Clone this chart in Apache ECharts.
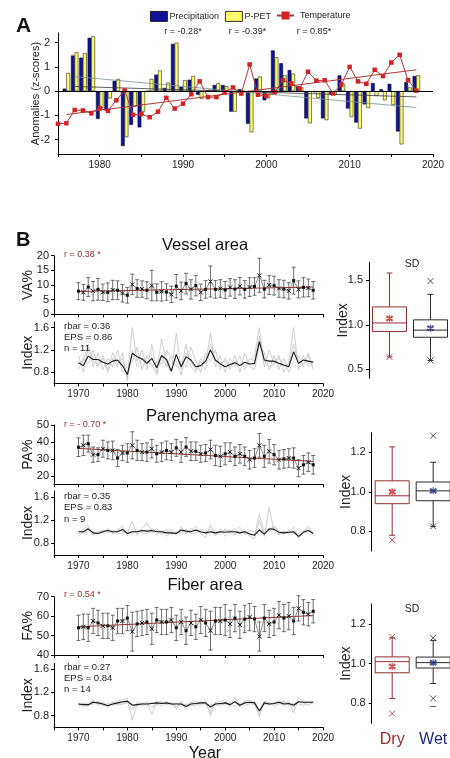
<!DOCTYPE html>
<html><head><meta charset="utf-8">
<script src="https://cdn.jsdelivr.net/npm/echarts@6/dist/echarts.min.js"></script>
<style>html,body{margin:0;padding:0;background:#fff}#c{width:450px;height:758px}</style>
</head><body><div id="c"></div>
<script>
// ---------- Panel A data ----------
const barStartYear = 1976;   // bars 1976-2018
const tempStartYear = 1975;  // temperature 1975-2018
const precip = [0.1,1.47,1.38,2.2,-1.15,-0.8,0.42,-2.27,-1.4,-1.5,0.0,0.68,0.13,1.95,0.18,0.47,-0.15,0.03,0.25,0.25,-0.85,0.08,-1.35,0.52,-0.38,1.68,1.15,0.87,0.2,-1.13,-0.05,-1.13,-0.15,0.65,-0.72,-1.3,-0.55,0.33,0.08,0.3,-1.67,0.37,0.62];
const ppet = [0.75,1.6,1.57,2.27,-0.7,-0.3,0.5,-1.9,-0.65,-0.85,0.5,0.85,0.35,2.0,0.45,0.62,-0.32,0.06,0.32,0.2,-0.85,0.0,-1.7,0.6,-0.3,1.4,0.65,0.72,0.15,-1.33,-0.28,-1.2,-0.15,0.3,-1.07,-1.55,-0.7,-0.2,-0.38,-0.57,-2.2,0.15,0.65];
const temperature = [-1.35,-1.33,-0.78,-0.8,-0.92,-0.7,-0.82,-0.38,0.03,-0.98,-0.95,-1.08,-0.85,-0.28,-0.72,-0.52,-0.13,0.4,-0.25,-0.25,-0.05,0.15,-0.1,1.1,-0.15,-0.2,-0.05,0.45,0.32,0.1,0.8,0.43,0.45,-0.1,0.27,1.0,0.4,0.3,0.88,0.62,1.18,1.5,0.45,0.02];
const tempTrend = [[1976,-0.97],[2018,0.88]];
const ppetTrend = [[1977,0.6],[2018,-0.68]];
const precipTrend = [[1977,0.19],[2018,-0.24]];
const aYTicks = [-2,-1,0,1,2];
const aRTexts = ['r = -0.28*','r = -0.39*','r = 0.85*'];

// ---------- Panel B data (1970-2018) ----------
const bStartYear = 1970;
const vaMean = [7.9,7.5,9.3,7.9,8.5,7.5,7.5,8.3,8.2,7.2,6.5,10.2,8.8,8.6,8.2,9.8,7.5,7.8,7.6,6.8,9.6,8.0,10.5,8.5,9.8,7.5,8.5,11.2,8.5,8.8,8.3,9.2,8.6,9.6,8.5,9.3,9.5,13.3,8.6,10.0,9.8,8.8,8.6,8.0,11.5,8.5,9.2,9.0,8.2];
const vaSd = [2.9,2.7,3.2,3.3,3.7,2.8,3.2,3.3,3.2,3.0,2.7,3.5,3.0,2.8,2.9,5.2,2.9,3.3,2.8,2.8,4.0,3.0,3.5,3.3,3.5,2.8,3.0,5.3,3.0,3.0,2.9,3.0,3.2,3.0,3.0,3.2,3.0,5.8,3.0,3.2,3.2,3.0,3.0,2.8,4.6,2.9,3.3,3.0,3.0];
const vaTrend = [[1970,7.8],[2018,9.3]];
const vaIndex = [0.97,0.92,1.09,1.03,1.03,0.98,0.95,1.0,1.02,0.92,0.76,1.14,1.08,1.04,0.96,1.05,0.88,1.1,1.03,0.82,1.12,0.9,1.08,1.02,0.9,0.92,1.0,1.2,1.02,0.95,0.9,0.94,0.97,0.92,0.98,0.95,0.96,1.35,1.02,1.0,1.0,0.96,0.93,0.9,1.17,0.96,1.02,1.0,0.98];
const vaTrees = [
 [0.85,1.05,0.95,1.2,0.9,1.1,0.85,1.15,0.95,1.05,0.7,1.6,1.0,1.2,0.85,1.3,0.8,1.4,0.95,0.8,1.5,0.85,1.3,0.9,0.8,1.05,0.95,1.5,0.9,1.1,0.8,1.05,0.9,1.1,0.85,1.0,1.1,1.6,0.9,1.2,0.95,1.1,0.8,1.0,1.6,0.85,1.1,0.9,1.0],
 [1.1,0.8,1.25,0.9,1.15,0.85,1.05,0.9,1.2,0.8,0.9,1.0,1.25,0.85,1.1,0.9,1.0,0.95,1.2,1.05,0.9,1.0,0.9,1.25,1.0,0.8,1.15,1.0,1.2,0.85,1.05,0.85,1.1,0.8,1.15,0.9,0.85,1.3,1.15,0.85,1.1,0.85,1.05,0.8,1.0,1.1,0.9,1.15,0.9],
 [0.95,1.0,1.3,1.0,0.95,1.05,0.8,1.05,0.9,1.15,0.65,1.2,0.9,1.05,1.0,0.95,0.75,1.1,0.9,1.1,1.0,0.75,1.15,1.0,0.85,1.0,0.85,1.3,1.0,0.95,1.0,0.9,1.0,0.95,0.9,1.05,1.0,1.45,1.0,0.9,0.95,1.05,0.9,0.95,1.3,1.0,0.95,1.1,0.85]
];
const paMean = [36.9,38,39,32.5,32.5,36,35,35,30.5,33.5,33.5,38,35,34,34,36,33,34,35,34,36.5,34,37,34.5,34.5,33,33.5,35.5,32,31.5,33,34,31.5,33,31.5,29.5,30.5,38,31.5,34.5,32.5,29.5,30,30.5,30.5,24.5,26.5,28,26.5];
const paSd = [5.5,6,5,4.5,4,5,5,5.5,5,4.5,5.5,8,6,5,5.5,5.5,5,5.5,5.5,5,5,6,5.5,5.5,5.5,5,5,5.5,6,6,6.5,5.5,5.5,5.5,5.5,5.5,5.5,7,6.5,7,6,5.5,5.5,5.5,6,5,5.5,5.5,5.5];
const paTrend = [[1970,36.2],[2018,28.5]];
const paIndex = [1.0,1.0,1.05,0.98,0.97,1.0,1.02,1.0,1.0,1.04,0.97,1.0,1.0,1.02,1.01,1.02,1.0,1.0,0.98,0.98,0.97,1.03,1.01,1.0,1.03,1.0,0.98,1.0,0.98,1.0,0.99,1.0,1.0,0.98,1.0,0.96,0.94,1.03,0.96,1.05,1.04,0.99,0.98,0.99,1.0,0.92,0.99,1.02,0.97];
const paTrees = [
 [0.95,1.05,1.1,0.95,1.0,0.97,1.05,0.98,1.02,1.1,0.93,1.05,0.97,1.05,1.15,1.0,0.95,1.02,0.92,1.0,0.95,1.08,0.98,1.02,1.1,0.96,0.9,1.12,0.94,1.05,0.92,1.0,1.06,0.95,1.03,0.92,0.88,1.2,0.92,1.42,1.0,0.95,1.0,0.96,1.08,0.88,1.0,1.1,0.95],
 [1.02,0.96,1.02,1.0,0.95,1.04,0.98,1.03,0.97,0.98,1.03,0.95,1.04,0.98,0.96,1.05,1.02,0.97,1.04,0.95,1.0,0.97,1.05,0.96,0.98,1.04,1.03,0.95,1.03,0.96,1.05,0.97,0.95,1.02,0.96,1.02,1.0,0.95,1.05,1.0,1.1,1.02,0.95,1.03,0.96,0.97,1.03,0.95,1.0],
 [0.92,1.0,1.06,0.94,1.02,1.0,1.04,0.96,1.05,1.0,0.98,1.18,0.94,1.0,1.0,0.98,1.06,0.95,1.0,1.03,0.98,1.02,0.96,1.06,1.02,0.97,1.0,1.04,0.93,1.0,1.02,1.03,0.97,1.08,0.95,0.98,0.94,1.3,0.98,1.05,1.08,0.96,1.02,0.98,1.0,0.9,1.0,1.05,0.97]
];
const faMean = [54,54.5,54,57.5,56.5,55,55,54,57.5,57.5,59,52,56,56.5,57,53.5,58,57,57,58,54,57,52.5,56.5,54.5,58,56.5,52.5,57.5,57.5,58,56,59,55.5,58.5,59.5,58.5,49.5,59,56,57,60.5,59,60,57.5,64,62,61,62.5];
const faSd = [6.5,6.5,7,6.5,6.5,6.5,6.5,6.5,6.5,6.5,6.5,10,6.5,6.5,6.5,8,6.5,6.5,6.5,6.5,6.5,6.5,7,6.5,6.5,7,7,10,7,7,8,7,7,7,7,7,6.5,7.5,7,7,7,7,7,7,7,6.5,6.5,6,6];
const faTrend = [[1970,54.5],[2018,60.3]];
const faIndex = [1.0,0.99,0.99,1.03,1.02,1.0,0.97,1.0,1.02,1.04,1.05,0.98,0.99,1.0,1.0,1.01,1.02,1.01,1.02,1.0,1.0,1.0,0.96,1.0,1.01,1.02,1.02,0.95,1.0,1.01,1.02,0.99,1.04,0.98,1.02,1.03,1.02,0.88,1.02,1.0,1.01,1.03,1.0,1.01,0.98,1.04,1.03,1.03,1.03];
const faTrees = [
 [0.95,1.0,1.02,1.05,1.0,1.03,0.95,1.02,1.05,1.08,1.1,0.72,1.02,1.0,1.03,0.82,1.05,1.03,1.0,1.02,0.95,1.05,0.9,1.02,1.05,1.0,1.04,0.8,1.02,1.05,1.08,0.95,1.12,0.98,1.05,1.06,1.03,0.78,1.05,1.02,1.0,1.06,1.02,1.04,0.85,1.1,1.05,1.02,1.05],
 [1.02,0.95,0.98,1.0,1.05,0.97,1.0,0.98,1.0,1.02,1.04,1.0,0.96,1.03,0.97,1.03,1.0,0.97,1.05,0.98,1.02,0.96,1.0,0.97,0.98,1.05,0.98,1.0,0.97,1.0,0.98,1.03,0.96,1.02,0.98,1.0,1.04,0.9,0.98,1.03,0.97,1.0,1.05,0.98,1.02,1.0,0.98,1.04,1.0],
 [0.98,1.03,0.96,1.07,0.98,1.0,1.0,1.04,0.98,1.0,1.02,0.9,1.03,0.97,1.02,0.95,0.98,1.05,0.98,1.03,0.92,1.02,0.98,1.04,1.0,0.98,1.05,0.85,1.04,0.97,1.03,0.98,1.05,0.95,1.04,1.02,0.98,0.82,1.02,0.98,1.04,1.02,0.97,1.03,0.95,1.05,1.02,0.98,1.03]
];
const titles = ['Vessel area','Parenchyma area','Fiber area'];
const yNames = ['VA%','PA%','FA%'];
const rTexts = ['r = 0.38 *','r = - 0.70 *','r = 0.54 *'];
const statTexts = [['rbar = 0.36','EPS = 0.86','n = 11'],['rbar = 0.35','EPS = 0.83','n = 9'],['rbar = 0.27','EPS = 0.84','n = 14']];
const topTicks = [[0,5,10,15,20],[20,30,40,50],[40,50,60,70]];
const idxTicks = [0.8,1.2,1.6];
const xTickLabels = [1970,1980,1990,2000,2010,2020];

// ---------- Box plots (SD) : [min, Q1, median, Q3, max] ----------
const boxCats = ['Dry','Wet'];
const vaBox = [[0.64,0.925,1.02,1.2,1.58],[0.6,0.86,0.94,1.055,1.34]];
const vaBoxMean = [1.07,0.96];
const vaBoxX = [[0,0.64],[1,1.49],[1,0.6]];
const paBox = [[0.78,0.94,0.98,1.056,1.228],[0.825,0.955,1.005,1.05,1.15]];
const paBoxMean = [1.0,1.005];
const paBoxX = [[0,0.755],[1,1.285],[1,0.825]];
const faBox = [[0.825,0.954,1.01,1.034,1.13],[0.9,0.978,1.005,1.033,1.117]];
const faBoxMean = [0.986,1.005];
const faBoxX = [[0,1.135],[0,0.749],[1,1.13],[1,0.825]];
const faBoxDash = [[1,0.785]];
const boxTicks = [[0.5,1.0,1.5],[0.8,1.0,1.2],[0.8,1.0,1.2]];

// ---------- build ----------
const SANS = "'Liberation Sans', Arial, sans-serif";
const NAR = "'Liberation Sans Narrow', 'Liberation Sans', Arial, sans-serif";
const DRY = '#922f2f', WET = '#2a2a2a', WETTXT = '#1d2a7a';
const XPATH = 'path://M0,0L10,10M10,0L0,10';
const STAR = 'path://M5,0L5,10M0,2.5L10,7.5M0,7.5L10,2.5M1,1L9,9M9,1L1,9';

const axLine = {show:true, onZero:false, lineStyle:{color:'#000', width:1}};
const tick = (len) => ({show:true, length:len, lineStyle:{color:'#000', width:1}});

const grids = [
  {left:58, top:33, width:375, height:121},
  {left:54, top:255.7, width:269, height:58.6},
  {left:54, top:322, width:269, height:61.5},
  {left:54, top:425, width:269, height:59.3},
  {left:54, top:491, width:269, height:64},
  {left:54, top:596.7, width:269, height:58.3},
  {left:54, top:663.2, width:269, height:64.2},
  {left:369, top:262.3, width:82, height:116},
  {left:371.7, top:432.7, width:82, height:118.3},
  {left:371.7, top:604, width:82, height:119.3}
].map(g => Object.assign({outerBoundsMode:'none', containLabel:false}, g));

const xAxis = [], yAxis = [], series = [];

// Panel A axes
xAxis.push({gridIndex:0, type:'value', min:1975, max:2020, interval:5, axisLine:axLine, axisTick:tick(3), splitLine:{show:false},
  axisLabel:{formatter:v => (v % 10 === 0 ? String(v) : ''), fontSize:10, fontFamily:NAR, color:'#222', margin:6}});
yAxis.push({gridIndex:0, type:'value', min:-2.6, max:2.4, axisLine:axLine, splitLine:{show:false},
  axisTick:Object.assign(tick(3), {customValues:aYTicks}),
  axisLabel:{customValues:aYTicks, fontSize:11, fontFamily:NAR, color:'#222', margin:8},
  name:'Anomalies (z-scores)', nameLocation:'middle', nameGap:17, nameMoveOverlap:false,
  nameTextStyle:{fontSize:11, fontFamily:NAR, color:'#222'}});

// Panel B line axes
for (let k = 0; k < 3; k++) {
  const gTop = 1 + 2*k, gIdx = 2 + 2*k;
  [gTop, gIdx].forEach(g => {
    xAxis.push({gridIndex:g, type:'value', min:1965, max:2020, interval:5, axisLine:axLine, axisTick:tick(3), splitLine:{show:false},
      axisLabel:{show: g === gIdx, formatter:v => (xTickLabels.indexOf(v) >= 0 ? String(v) : ''), fontSize:10, fontFamily:SANS, color:'#222', margin:6}});
  });
  const ranges = [[0,20],[15,50],[40,70]];
  yAxis.push({gridIndex:gTop, type:'value', min:ranges[k][0], max:ranges[k][1], axisLine:axLine, splitLine:{show:false},
    axisTick:Object.assign(tick(3), {customValues:topTicks[k]}),
    axisLabel:{customValues:topTicks[k], fontSize:11, fontFamily:SANS, color:'#222', margin:5},
    name:yNames[k], nameLocation:'middle', nameGap:19, nameMoveOverlap:false,
    nameTextStyle:{fontSize:14, fontFamily:SANS, color:'#222'}});
  yAxis.push({gridIndex:gIdx, type:'value', min:0.6, max:1.7, axisLine:axLine, splitLine:{show:false},
    axisTick:Object.assign(tick(3), {customValues:idxTicks}),
    axisLabel:{customValues:idxTicks, formatter:v => Number(v).toFixed(1), fontSize:11, fontFamily:SANS, color:'#222', margin:5},
    name:'Index', nameLocation:'middle', nameGap:19, nameMoveOverlap:false,
    nameTextStyle:{fontSize:14, fontFamily:SANS, color:'#222'}});
}

// Box axes
const boxRanges = [[0.4,1.7],[0.7,1.3],[0.7,1.3]];
for (let k = 0; k < 3; k++) {
  const g = 7 + k;
  xAxis.push({gridIndex:g, type:'category', data:boxCats, axisLine:{show:false}, axisTick:{show:false}, splitLine:{show:false},
    axisLabel:{show: k === 2, interval:0, hideOverlap:false, margin:8, formatter:v => '{' + v.toLowerCase() + '|' + v + '}',
      rich:{dry:{color:DRY, fontSize:16, fontFamily:SANS}, wet:{color:WETTXT, fontSize:16, fontFamily:SANS}}}});
  yAxis.push({gridIndex:g, type:'value', min:boxRanges[k][0], max:boxRanges[k][1], axisLine:axLine, splitLine:{show:false},
    axisTick:Object.assign(tick(3), {customValues:boxTicks[k]}),
    axisLabel:{customValues:boxTicks[k], formatter:v => Number(v).toFixed(1), fontSize:11, fontFamily:SANS, color:'#222', margin:6},
    name:'Index', nameLocation:'middle', nameGap:19, nameMoveOverlap:false,
    nameTextStyle:{fontSize:14, fontFamily:SANS, color:'#222'}});
}

// ---- Panel A series ----
const barData = (arr) => arr.map((v, i) => [barStartYear + i, v]);
series.push({name:'Precipitation', type:'bar', xAxisIndex:0, yAxisIndex:0, data:barData(precip), barWidth:3.7, barGap:'0%',
  itemStyle:{color:'#11129c', borderColor:'#000', borderWidth:0.5}, z:2,
  markLine:{silent:true, symbol:['none','none'], label:{show:false}, lineStyle:{color:'#000', width:1, type:'solid'}, data:[{yAxis:0}]}});
series.push({name:'P-PET', type:'bar', xAxisIndex:0, yAxisIndex:0, data:barData(ppet), barWidth:3.7, barGap:'0%',
  itemStyle:{color:'#ffff6e', borderColor:'#000', borderWidth:0.5}, z:2});
series.push({type:'line', xAxisIndex:0, yAxisIndex:0, data:precipTrend, symbol:'none', lineStyle:{color:'#3a3a3a', width:0.8}, silent:true, z:3});
series.push({type:'line', xAxisIndex:0, yAxisIndex:0, data:ppetTrend, symbol:'none', lineStyle:{color:'#7a9090', width:0.8}, silent:true, z:3});
series.push({type:'line', xAxisIndex:0, yAxisIndex:0, data:tempTrend, symbol:'none', lineStyle:{color:'#b03a3a', width:1}, silent:true, z:3});
series.push({name:'Temperature', type:'line', xAxisIndex:0, yAxisIndex:0, data:temperature.map((v, i) => [tempStartYear + i, v]),
  symbol:'rect', symbolSize:4.5, lineStyle:{color:'#a83a3a', width:1}, itemStyle:{color:'#d42222'}, z:4});

// ---- Panel B series ----
function errRender(params, api) {
  const x = api.value(0);
  const a = api.coord([x, api.value(1)]), b = api.coord([x, api.value(2)]);
  const w = 2, st = {stroke:'#4a4a4a', lineWidth:0.8};
  return {type:'group', children:[
    {type:'line', shape:{x1:a[0], y1:a[1], x2:b[0], y2:b[1]}, style:st},
    {type:'line', shape:{x1:a[0]-w, y1:a[1], x2:a[0]+w, y2:a[1]}, style:st},
    {type:'line', shape:{x1:b[0]-w, y1:b[1], x2:b[0]+w, y2:b[1]}, style:st}
  ]};
}
const panels = [
  {mean:vaMean, sd:vaSd, trend:vaTrend, index:vaIndex, trees:vaTrees},
  {mean:paMean, sd:paSd, trend:paTrend, index:paIndex, trees:paTrees},
  {mean:faMean, sd:faSd, trend:faTrend, index:faIndex, trees:faTrees}
];
panels.forEach((p, k) => {
  const ax = 1 + 2*k, axI = 2 + 2*k;
  series.push({type:'custom', xAxisIndex:ax, yAxisIndex:ax, renderItem:errRender, encode:{x:0, y:[1,2]}, silent:true, z:2,
    data:p.mean.map((m, i) => [bStartYear + i, m - p.sd[i], m + p.sd[i]])});
  series.push({type:'line', xAxisIndex:ax, yAxisIndex:ax, data:p.trend, symbol:'none', lineStyle:{color:'#8e3434', width:1}, silent:true, z:3});
  series.push({type:'line', xAxisIndex:ax, yAxisIndex:ax, silent:true, z:4,
    data:p.mean.map((m, i) => (i % 2 === 0
      ? {value:[bStartYear + i, m], symbol:'rect', symbolSize:3, itemStyle:{color:'#111', borderWidth:0}}
      : {value:[bStartYear + i, m], symbol:XPATH, symbolSize:4, itemStyle:{color:'transparent', borderColor:'#111', borderWidth:1}})),
    lineStyle:{color:'#555', width:0.7}});
  p.trees.forEach(t => {
    series.push({type:'line', xAxisIndex:axI, yAxisIndex:axI, data:t.map((v, i) => [bStartYear + i, v]), symbol:'none',
      lineStyle:{color:'#c4c4c4', width:0.8}, silent:true, z:2});
  });
  series.push({type:'line', xAxisIndex:axI, yAxisIndex:axI, data:p.index.map((v, i) => [bStartYear + i, v]), symbol:'none',
    lineStyle:{color:'#151515', width:1.1}, silent:true, z:3});
});

// ---- Box series ----
function boxRender(params, api) {
  const c = api.value(0);
  const P = j => api.coord([c, api.value(j)]);
  const pMin = P(1), pQ1 = P(2), pMed = P(3), pQ3 = P(4), pMax = P(5);
  const hw = api.size([1, 0])[0] * 0.415, cap = 3, x = pMed[0];
  const st = {stroke: c === 0 ? DRY : WET, lineWidth:1, fill:'none'};
  return {type:'group', children:[
    {type:'rect', shape:{x:x - hw, y:pQ3[1], width:2*hw, height:pQ1[1] - pQ3[1]}, style:Object.assign({}, st, {fill:'#fff'})},
    {type:'line', shape:{x1:x - hw, y1:pMed[1], x2:x + hw, y2:pMed[1]}, style:st},
    {type:'line', shape:{x1:x, y1:pQ3[1], x2:x, y2:pMax[1]}, style:st},
    {type:'line', shape:{x1:x, y1:pQ1[1], x2:x, y2:pMin[1]}, style:st},
    {type:'line', shape:{x1:x - cap, y1:pMax[1], x2:x + cap, y2:pMax[1]}, style:st},
    {type:'line', shape:{x1:x - cap, y1:pMin[1], x2:x + cap, y2:pMin[1]}, style:st}
  ]};
}
const boxes = [
  {box:vaBox, mean:vaBoxMean, xs:vaBoxX, dash:[]},
  {box:paBox, mean:paBoxMean, xs:paBoxX, dash:[]},
  {box:faBox, mean:faBoxMean, xs:faBoxX, dash:faBoxDash}
];
boxes.forEach((b, k) => {
  const ax = 7 + k;
  series.push({type:'custom', xAxisIndex:ax, yAxisIndex:ax, renderItem:boxRender, silent:true, z:2,
    encode:{x:0, y:[1,2,3,4,5]}, data:b.box.map((v, i) => [i].concat(v))});
  series.push({type:'scatter', xAxisIndex:ax, yAxisIndex:ax, symbol:XPATH, symbolSize:6, silent:true, z:4,
    data:b.xs.map(d => ({value:d, itemStyle:{color:'transparent', borderColor: d[0] === 0 ? DRY : WET, borderWidth:1}}))});
  series.push({type:'scatter', xAxisIndex:ax, yAxisIndex:ax, symbol:STAR, symbolSize:7, silent:true, z:5,
    data:b.mean.map((m, i) => ({value:[i, m], itemStyle:{color:'transparent', borderColor: i === 0 ? '#c02020' : '#1d2a7a', borderWidth:1.2}}))});
  if (b.dash.length) {
    series.push({type:'scatter', xAxisIndex:ax, yAxisIndex:ax, symbol:'rect', symbolSize:[6,1], silent:true, z:4,
      data:b.dash, itemStyle:{color:WET}});
  }
});

// ---- Texts ----
const T = (text, x, y, size, o) => Object.assign({type:'text', x:x, y:y, silent:true, z:100,
  style:Object.assign({text:text, fontSize:size, fontFamily:SANS, fill:'#222', align:'left', verticalAlign:'middle'}, (o || {}))});
const graphic = [
  T('A', 16, 26.5, 21, {fontWeight:'bold', fill:'#111'}),
  T('B', 16, 240, 20, {fontWeight:'bold', fill:'#111'}),
  T(aRTexts[0], 183, 32, 9, {align:'center', fontFamily:NAR}),
  T(aRTexts[1], 247.5, 32, 9, {align:'center', fontFamily:NAR}),
  T(aRTexts[2], 314, 32, 9, {align:'center', fontFamily:NAR}),
  T(titles[0], 205, 245, 16.5, {align:'center', fill:'#111'}),
  T(titles[1], 211, 416.7, 16.5, {align:'center', fill:'#111'}),
  T(titles[2], 205, 585, 16.5, {align:'center', fill:'#111'}),
  T(rTexts[0], 64, 254.3, 9, {fill:'#8e3030'}),
  T(rTexts[1], 64, 425, 9, {fill:'#8e3030'}),
  T(rTexts[2], 64, 595, 9, {fill:'#8e3030'}),
  T('SD', 412, 264, 10.5, {align:'center'}),
  T('SD', 412, 609, 10.5, {align:'center'}),
  T('Year', 205, 746, 16, {align:'center', verticalAlign:'top', fill:'#111'})
];
const statY = [[326,337.7,348.3],[496.7,507.7,519],[667.7,678.3,689.3]];
statTexts.forEach((arr, k) => arr.forEach((s, j) => graphic.push(T(s, 64, statY[k][j], 9.5))));

const legendBase = {orient:'horizontal', top:11, padding:0, itemGap:0, itemWidth:17, itemHeight:10,
  textStyle:{fontSize:9, fontFamily:NAR, color:'#222', padding:[0,0,0,-3]}, selectedMode:false};
const option = {
  animation:false,
  backgroundColor:'#fff',
  grid:grids, xAxis:xAxis, yAxis:yAxis, series:series, graphic:graphic,
  legend:[
    Object.assign({}, legendBase, {data:['Precipitation'], left:150, icon:'rect', itemStyle:{borderColor:'#000', borderWidth:0.8}}),
    Object.assign({}, legendBase, {data:['P-PET'], left:225, icon:'rect', itemStyle:{borderColor:'#000', borderWidth:0.8}}),
    Object.assign({}, legendBase, {data:['Temperature'], left:276, textStyle:{fontSize:9, fontFamily:NAR, color:'#222', padding:[0,0,0,1]}})
  ]
};
const chart = echarts.init(document.getElementById('c'), null, {renderer:'canvas'});
chart.setOption(option);
</script></body></html>
